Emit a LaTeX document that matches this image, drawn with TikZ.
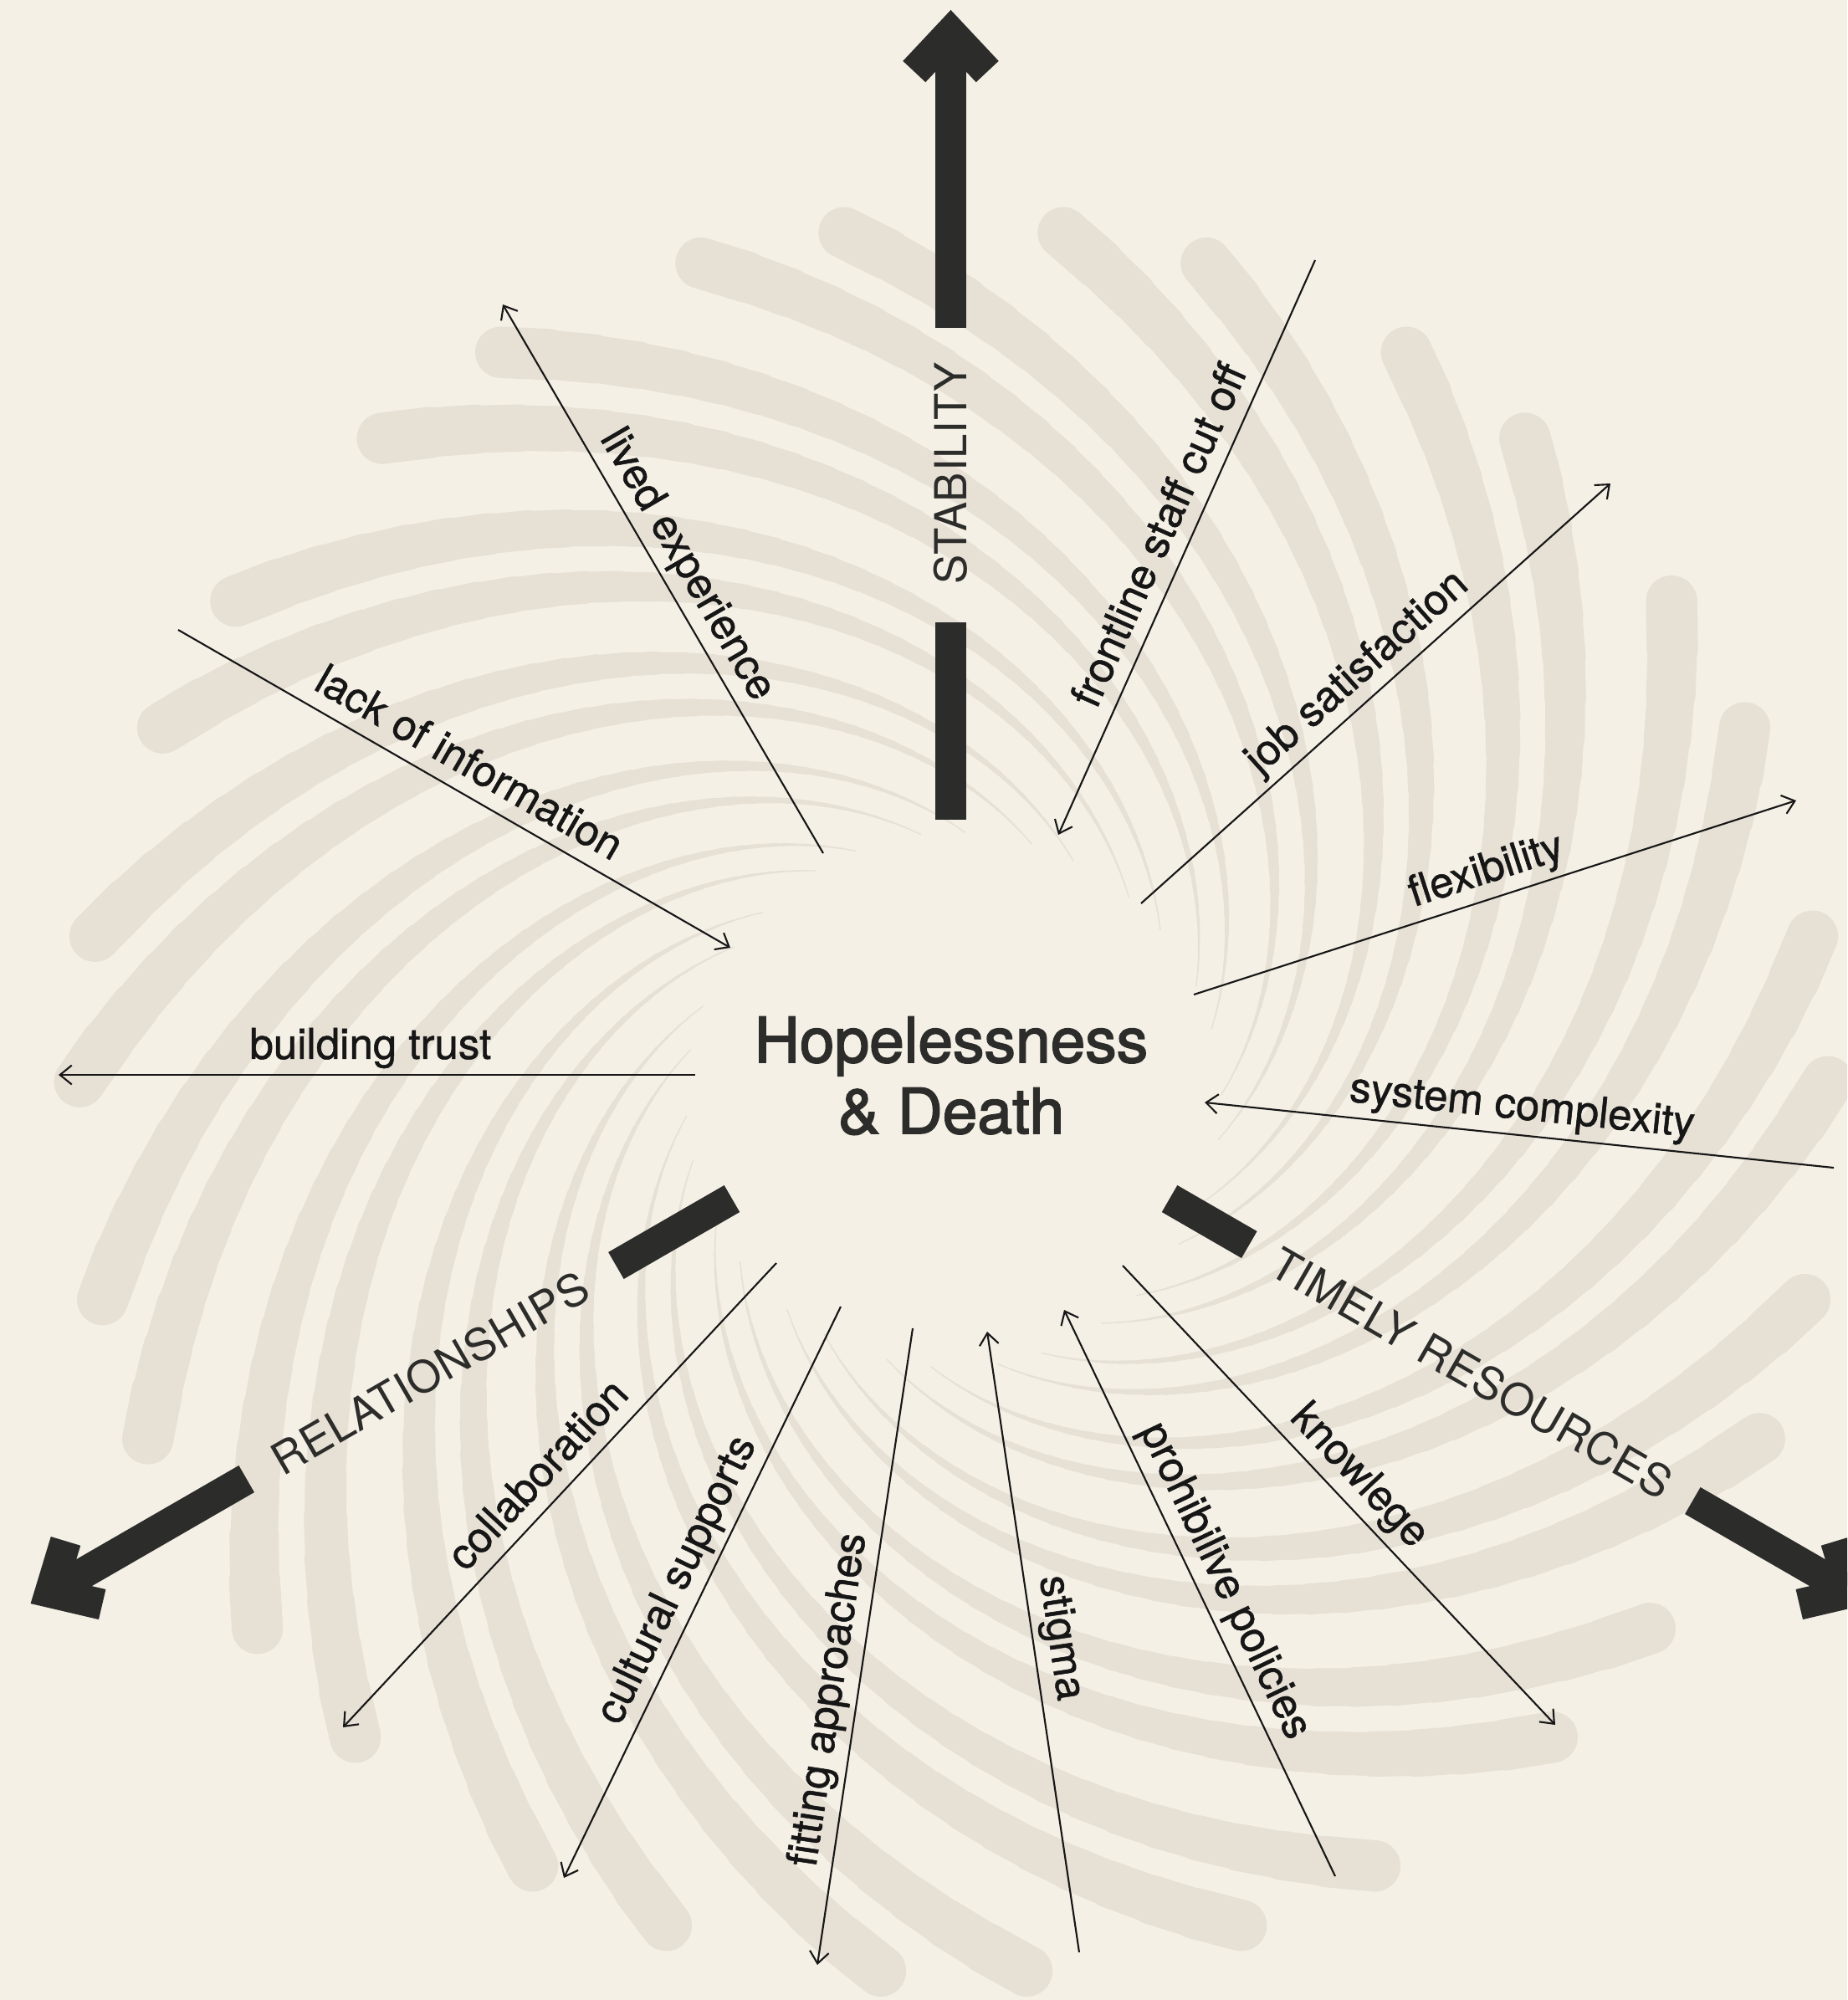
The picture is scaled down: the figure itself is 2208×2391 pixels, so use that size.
\documentclass[tikz,border=0pt]{standalone}
\usepackage{fontspec}
\setmainfont{TeX Gyre Heros}
\newfontfamily\lblfont{TeX Gyre Heros}[FakeBold=1.0]
\newfontfamily\ttlfont{TeX Gyre Heros}[FakeBold=2.2]
\usetikzlibrary{arrows.meta,calc}
\definecolor{bgc}{HTML}{F4F0E6}
\definecolor{armc}{HTML}{E6E0D5}
\definecolor{inkc}{HTML}{2C2C2A}
\definecolor{lblc}{HTML}{161616}
\newcommand\lbst{\rule[-0.18cm]{0pt}{0.18cm}}
\begin{document}
\begin{tikzpicture}[x=0.01cm,y=-0.01cm,
  thinarrow/.style={draw=lblc, line width=0.6pt, -{Straight Barb[length=4pt,width=6.5pt]}},
  lbltext/.style={sloped, anchor=south, inner sep=0pt, text=lblc, font=\lblfont\fontsize{14.5}{17}\selectfont},
  bar/.style={draw=inkc, line width=0.37cm},
  captext/.style={text=inkc, inner sep=0pt, font=\addfontfeature{LetterSpace=1.5}\fontsize{15}{17}\selectfont},
  ttl/.style={text=inkc, inner sep=0pt, font=\ttlfont\fontsize{21.3}{26}\selectfont},
]
\useasboundingbox (0,0) rectangle (2208,2391);
\clip (0,0) rectangle (2208,2391);
\fill[bgc] (0,0) rectangle (2208,2391);

% spiral arms
\foreach \k in {0,...,14}{
  \foreach \off in {97.2,106.8}{
    \foreach \i in {0,...,39}{
      \pgfmathsetmacro\armc{\off+24*\k}
      \pgfmathsetmacro\armta{\i/40}
      \pgfmathsetmacro\armtb{(\i+1)/40}
      \pgfmathsetmacro\armra{1045*exp(-1.1834*\armta)}
      \pgfmathsetmacro\armrb{1045*exp(-1.1834*\armtb)}
      \pgfmathsetmacro\armaa{\armc-105.7*\armta}
      \pgfmathsetmacro\armab{\armc-105.7*\armtb}
      \pgfmathsetmacro\armxa{1140+\armra*cos(\armaa)}
      \pgfmathsetmacro\armya{1315-\armra*sin(\armaa)}
      \pgfmathsetmacro\armxb{1140+\armrb*cos(\armab)}
      \pgfmathsetmacro\armyb{1315-\armrb*sin(\armab)}
      \pgfmathsetmacro\armw{0.6*(1-\armta)^1.6+0.012}
      \draw[draw=armc, line width=\armw cm, line cap=round] (\armxa,\armya) -- (\armxb,\armyb);
    }
  }
}

% thin arrows
\coordinate (p1) at (984,1020);  \coordinate (q1) at (601,364);
\coordinate (p2) at (213,753);   \coordinate (q2) at (873,1133);
\coordinate (p3) at (831,1285);  \coordinate (q3) at (70,1285);
\coordinate (p4) at (1572,311);  \coordinate (q4) at (1265,998);
\coordinate (p5) at (1364,1080); \coordinate (q5) at (1925,578);
\coordinate (p6) at (1427,1189); \coordinate (q6) at (2147,957);
\coordinate (p7) at (2192,1396); \coordinate (q7) at (1440,1318);
\coordinate (p8) at (1342,1513); \coordinate (q8) at (1859,2062);
\coordinate (p9) at (1596,2243); \coordinate (q9) at (1272,1566);
\coordinate (p10) at (1290,2334); \coordinate (q10) at (1180,1592);
\coordinate (p11) at (1091,1588); \coordinate (q11) at (977,2349);
\coordinate (p12) at (1005,1562); \coordinate (q12) at (674,2245);
\coordinate (p13) at (928,1510);  \coordinate (q13) at (410,2065);

\draw[thinarrow] (p1) -- node[lbltext,pos=.5] (l1) {\lbst lived experience} (q1);
\draw[thinarrow] (p2) -- node[lbltext,pos=.5] (l2) {\lbst lack of information} (q2);
\draw[thinarrow] (p3) -- node[lbltext,pos=.51] (l3) {\lbst building trust} (q3);
\draw[thinarrow] (p4) -- node[lbltext,pos=.5] (l4) {\lbst frontline staff cut off} (q4);
\draw[thinarrow] (p5) -- node[lbltext,pos=.5] (l5) {\lbst job satisfaction} (q5);
\draw[thinarrow] (p6) -- node[lbltext,pos=.5] (l6) {\lbst flexibility} (q6);
\draw[thinarrow] (p7) -- node[lbltext,pos=.5] (l7) {\lbst system complexity} (q7);
\draw[thinarrow] (p8) -- node[lbltext,pos=.5] (l8) {\lbst knowlege} (q8);
\draw[thinarrow] (p9) -- node[lbltext,pos=.5] (l9) {\lbst prohibilive policies} (q9);
\draw[thinarrow] (p10) -- node[lbltext,pos=.5] (l10) {\lbst stigma} (q10);
\draw[thinarrow] (p11) -- node[lbltext,pos=.59] (l11) {\lbst fitting approaches} (q11);
\draw[thinarrow] (p12) -- node[lbltext,pos=.5] (l12) {\lbst cultural supports} (q12);
\draw[thinarrow] (p13) -- node[lbltext,pos=.5] (l13) {\lbst collaboration} (q13);

% thick arrows
\foreach \rot/\ri/\ro/\nm in {0/538/890/s, 120/462/972/r, 240/412/1024/t} {
  \begin{scope}[shift={(1136.5,1282)}, rotate=\rot]
    \coordinate (\nm a) at (0,-302);
    \coordinate (\nm b) at (0,-\ri);
    \coordinate (\nm c) at (0,-\ro);
    \coordinate (\nm d) at (0,-1235);
    \coordinate (\nm l) at (-43.7,-1196.4);
    \coordinate (\nm m) at (0,-1243);
    \coordinate (\nm n) at (43.7,-1196.4);
    \draw[bar] (\nm a) -- (\nm b);
    \draw[bar] (\nm c) -- (\nm d);
    \draw[bar, line join=miter] (\nm l) -- (\nm m) -- (\nm n);
  \end{scope}
}
\node[captext, rotate=90] (stab) at (1136.5,566) {STABILITY};
\node[captext, rotate=30] (rel) at (513.8,1641.5) {RELATIONSHIPS};
\node[captext, rotate=-30] (tim) at (1759.2,1641.5) {TIMELY RESOURCES};

% title
\node[ttl, anchor=base] (t1) at (1137,1270) {Hopelessness};
\node[ttl, anchor=base] (t2) at (1137,1355) {\& Death};
\end{tikzpicture}
\end{document}
